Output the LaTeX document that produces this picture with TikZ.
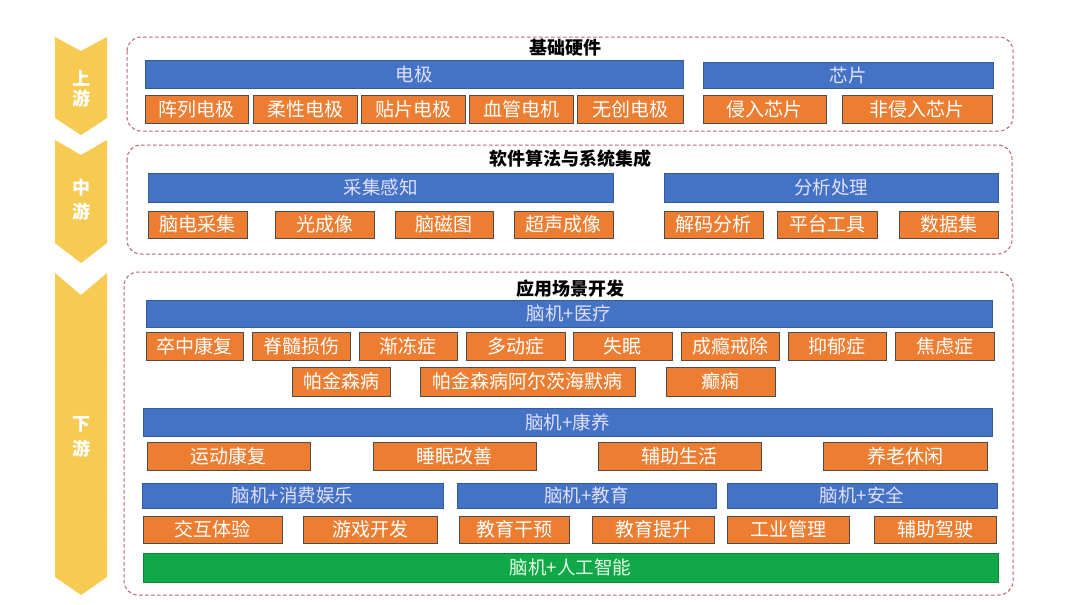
\documentclass[tikz,border=0pt]{standalone}
\usepackage{fontspec}
\setmainfont{Noto Sans CJK SC}
\begin{document}
\begin{tikzpicture}[x=1pt,y=-1pt,
  bluebar/.style={fill=barblue,draw=barblue!80!black,line width=0.4pt,text=white!88!blue,font=\fontsize{18.5}{18.5}\selectfont,inner sep=0pt,outer sep=0pt},
  orangebox/.style={fill=boxorange,draw=gray!60!black,line width=0.9pt,text=white,font=\fontsize{19}{19}\selectfont,inner sep=0pt,outer sep=0pt},
  greenbar/.style={fill=bargreen,draw=bargreen!80!black,line width=0.4pt,text=white!90!green,font=\fontsize{18.5}{18.5}\selectfont,inner sep=0pt,outer sep=0pt},
  groupbox/.style={draw=dashred,line width=1pt,dash pattern=on 3.5pt off 2.5pt,rounded corners=14pt},
  grouptitle/.style={font=\bfseries\fontsize{18}{18}\selectfont,text=black,inner sep=0pt},
  stagearrow/.style={fill=arrowyellow,draw=none},
  stagetext/.style={font=\bfseries\fontsize{18}{18}\selectfont,text=white,inner sep=0pt}
]
\definecolor{barblue}{RGB}{68,114,196}
\definecolor{boxorange}{RGB}{237,125,49}
\definecolor{bargreen}{RGB}{16,168,72}
\definecolor{dashred}{RGB}{185,100,110}
\definecolor{arrowyellow}{RGB}{247,202,82}
\newcommand\bx[7]{\node[#2,minimum width={#5pt-#3pt},minimum height={#6pt-#4pt}] (#1) at ({(#3+#5)/2},{(#4+#6)/2}) {#7};}
\useasboundingbox[fill=white] (0,0) rectangle (1080,605);

% stage arrows
\fill[stagearrow] (55,37) -- (81,51) -- (107,37) -- (107,118) -- (81,135) -- (55,118) -- cycle;
\fill[stagearrow] (55,140) -- (81,155) -- (107,140) -- (107,243) -- (81,263) -- (55,243) -- cycle;
\fill[stagearrow] (55,273) -- (81,295) -- (107,273) -- (107,577) -- (81,595) -- (55,577) -- cycle;
\node[stagetext] (s1a) at (81,78) {上};
\node[stagetext] (s1b) at (81,99) {游};
\node[stagetext] (s2a) at (81,188) {中};
\node[stagetext] (s2b) at (81,212) {游};
\node[stagetext] (s3a) at (81,424) {下};
\node[stagetext] (s3b) at (81,449) {游};

% group boxes
\draw[groupbox] (127,37) rectangle (1013,131);
\draw[groupbox] (127,145) rectangle (1012,254);
\draw[groupbox] (124,272) rectangle (1013,595);
\node[grouptitle] (t1) at (565,48) {基础硬件};
\node[grouptitle] (t2) at (570,159) {软件算法与系统集成};
\node[grouptitle] (t3) at (570,289) {应用场景开发};

% upstream
\bx{dj}{bluebar}{145}{60}{683}{88}{电极}
\bx{xp}{bluebar}{703}{62}{993}{88}{芯片}
\bx{a1}{orangebox}{145}{95}{248}{123}{阵列电极}
\bx{a2}{orangebox}{253}{95}{357}{123}{柔性电极}
\bx{a3}{orangebox}{361}{95}{465}{123}{贴片电极}
\bx{a4}{orangebox}{469}{95}{573}{123}{血管电机}
\bx{a5}{orangebox}{577}{95}{683}{123}{无创电极}
\bx{a6}{orangebox}{703}{95}{826}{123}{侵入芯片}
\bx{a7}{orangebox}{842}{95}{992}{123}{非侵入芯片}

% midstream
\bx{cj}{bluebar}{148}{173}{613}{202}{采集感知}
\bx{fx}{bluebar}{664}{173}{998}{202}{分析处理}
\bx{b1}{orangebox}{148}{211}{247}{238}{脑电采集}
\bx{b2}{orangebox}{275}{211}{374}{238}{光成像}
\bx{b3}{orangebox}{395}{211}{493}{238}{脑磁图}
\bx{b4}{orangebox}{514}{211}{613}{238}{超声成像}
\bx{b5}{orangebox}{664}{211}{763}{238}{解码分析}
\bx{b6}{orangebox}{777}{211}{877}{238}{平台工具}
\bx{b7}{orangebox}{899}{211}{998}{238}{数据集}

% downstream
\bx{yl}{bluebar}{146}{300}{992}{327}{脑机+医疗}
\bx{c1}{orangebox}{146}{332}{243}{360}{卒中康复}
\bx{c2}{orangebox}{252}{332}{350}{360}{脊髓损伤}
\bx{c3}{orangebox}{359}{332}{457}{360}{渐冻症}
\bx{c4}{orangebox}{466}{332}{565}{360}{多动症}
\bx{c5}{orangebox}{573}{332}{672}{360}{失眠}
\bx{c6}{orangebox}{681}{332}{779}{360}{成瘾戒除}
\bx{c7}{orangebox}{788}{332}{886}{360}{抑郁症}
\bx{c8}{orangebox}{895}{332}{994}{360}{焦虑症}
\bx{c9}{orangebox}{292}{367}{390}{396}{帕金森病}
\bx{c10}{orangebox}{420}{367}{635}{396}{帕金森病阿尔茨海默病}
\bx{c11}{orangebox}{666}{367}{775}{396}{癫痫}

\bx{ky}{bluebar}{143}{408}{992}{436}{脑机+康养}
\bx{d1}{orangebox}{147}{442}{310}{470}{运动康复}
\bx{d2}{orangebox}{373}{442}{536}{470}{睡眠改善}
\bx{d3}{orangebox}{598}{442}{761}{470}{辅助生活}
\bx{d4}{orangebox}{823}{442}{987}{470}{养老休闲}

\bx{xf}{bluebar}{142}{483}{443}{508}{脑机+消费娱乐}
\bx{jy}{bluebar}{457}{483}{716}{508}{脑机+教育}
\bx{aq}{bluebar}{727}{483}{997}{508}{脑机+安全}
\bx{e1}{orangebox}{143}{516}{282}{543}{交互体验}
\bx{e2}{orangebox}{303}{516}{437}{543}{游戏开发}
\bx{e3}{orangebox}{459}{516}{569}{543}{教育干预}
\bx{e4}{orangebox}{592}{516}{714}{543}{教育提升}
\bx{e5}{orangebox}{727}{516}{849}{543}{工业管理}
\bx{e6}{orangebox}{874}{516}{996}{543}{辅助驾驶}

\bx{ai}{greenbar}{143}{553}{998}{582}{脑机+人工智能}
\end{tikzpicture}
\end{document}
